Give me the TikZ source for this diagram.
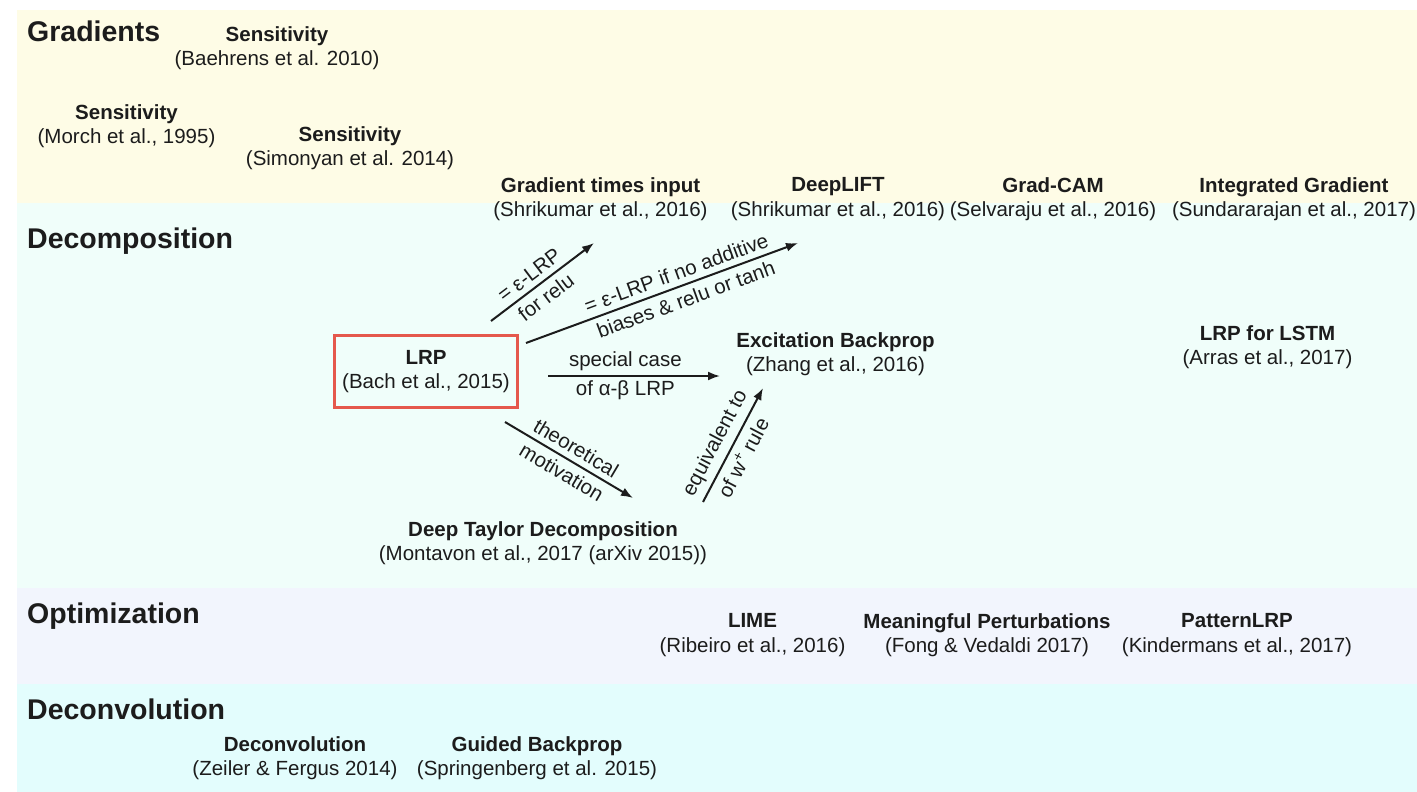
\documentclass[tikz,border=0pt]{standalone}
\usepackage{fontspec}
\setmainfont{Liberation Sans}
\usetikzlibrary{arrows.meta}

\definecolor{gradband}{RGB}{254,252,230}
\definecolor{decompband}{RGB}{240,254,250}
\definecolor{optband}{RGB}{242,245,253}
\definecolor{deconvband}{RGB}{227,253,253}
\definecolor{lrpred}{RGB}{229,88,76}
\definecolor{ink}{RGB}{28,28,28}

\begin{document}
\begin{tikzpicture}[
        x=1pt, y=-1pt,
        bandtitle/.style={anchor=base west, inner sep=0pt, text=ink, font=\fontsize{28.5}{32}\selectfont\bfseries},
        method/.style={align=center, inner sep=0pt, text=ink, font=\fontsize{20.5}{24.5}\selectfont},
        link/.style={draw=ink, line width=2pt, -{Latex[length=12pt,width=9pt]}},
        linklabel/.style={sloped, inner sep=5.5pt, text=ink, font=\fontsize{20.5}{24.5}\selectfont}
      ]

      \useasboundingbox (0,0) rectangle (1417,792);
      \fill[white] (0,0) rectangle (1417,792);

      % bands
      \fill[gradband] (17,10) rectangle (1417,203);
      \fill[decompband] (17,203) rectangle (1417,588);
      \fill[optband] (17,588) rectangle (1417,684);
      \fill[deconvband] (17,684) rectangle (1417,792);

      \node[bandtitle] (gradients) at (27,42) {Gradients};
      \node[bandtitle] (decomposition) at (27,248) {Decomposition};
      \node[bandtitle] (optimization) at (27,623) {Optimization};
      \node[bandtitle] (deconvolution) at (27,719) {Deconvolution};

      % gradients
      \node[method] (baehrens) at (277,48) {\textbf{Sensitivity}\\(Baehrens et al. 2010)};
      \node[method] (morch) at (126.5,126) {\textbf{Sensitivity}\\(Morch et al., 1995)};
      \node[method] (simonyan) at (350,148) {\textbf{Sensitivity}\\(Simonyan et al. 2014)};
      \node[method] (gradinput) at (600.5,199) {\textbf{Gradient times input}\\(Shrikumar et al., 2016)};
      \node[method] (deeplift) at (838,199) {\textbf{DeepLIFT}\\(Shrikumar et al., 2016)};
      \node[method] (gradcam) at (1053,199) {\textbf{Grad-CAM}\\(Selvaraju et al., 2016)};
      \node[method] (intgrad) at (1294,199) {\textbf{Integrated Gradient}\\(Sundararajan et al., 2017)};

      % decomposition
      \node[method, draw=lrpred, line width=3.3pt, minimum width=183pt, minimum height=72pt] (lrp) at (426,371.5) {\textbf{LRP}\\(Bach et al., 2015)};
      \node[method] (excitation) at (835.5,354) {\textbf{Excitation Backprop}\\(Zhang et al., 2016)};
      \node[method] (lstm) at (1267.5,347) {\textbf{LRP for LSTM}\\(Arras et al., 2017)};
      \node[method] (taylor) at (543,543) {\textbf{Deep Taylor Decomposition}\\(Montavon et al., 2017 (arXiv 2015))};

      % optimization
      \node[method] (lime) at (752.5,635) {\textbf{LIME}\\(Ribeiro et al., 2016)};
      \node[method] (perturb) at (987,635) {\textbf{Meaningful Perturbations}\\(Fong \& Vedaldi 2017)};
      \node[method] (patternlrp) at (1237,635) {\textbf{PatternLRP}\\(Kindermans et al., 2017)};

      % deconvolution
      \node[method] (deconv) at (295,758) {\textbf{Deconvolution}\\(Zeiler \& Fergus 2014)};
      \node[method] (guided) at (537,758) {\textbf{Guided Backprop}\\(Springenberg et al. 2015)};

      % arrow ends
      \coordinate (lrp-relu) at (491,321);
      \coordinate (gradinput-in) at (594,243);
      \coordinate (lrp-bias) at (526,343);
      \coordinate (deeplift-in) at (798,243);
      \coordinate (lrp-ab) at (548,376);
      \coordinate (excitation-in) at (720,376);
      \coordinate (lrp-theory) at (505,422);
      \coordinate (taylor-in) at (633,498);
      \coordinate (taylor-out) at (703,502);
      \coordinate (excitation-w) at (763,388);

      \draw[link] (lrp-relu) -- node[linklabel, above, pos=0.45] {= ε-LRP}
          node[linklabel, below, pos=0.45] {for relu} (gradinput-in);
      \draw[link] (lrp-bias) -- node[linklabel, above, pos=0.57] {= ε-LRP if no additive}
          node[linklabel, below, pos=0.57] {biases \& relu or tanh} (deeplift-in);
      \draw[link] (lrp-ab) -- node[linklabel, above, pos=0.45, inner sep=4pt] {special case}
          node[linklabel, below, pos=0.45, inner sep=4pt] {of α-β LRP} (excitation-in);
      \draw[link] (lrp-theory) -- node[linklabel, above, pos=0.5] {theoretical}
          node[linklabel, below, pos=0.5] {motivation} (taylor-in);
      \draw[link] (taylor-out) -- node[linklabel, above, pos=0.45] {equivalent to}
          node[linklabel, below, pos=0.45] {of w\textsuperscript{+} rule} (excitation-w);

      \end{tikzpicture}
\end{document}
